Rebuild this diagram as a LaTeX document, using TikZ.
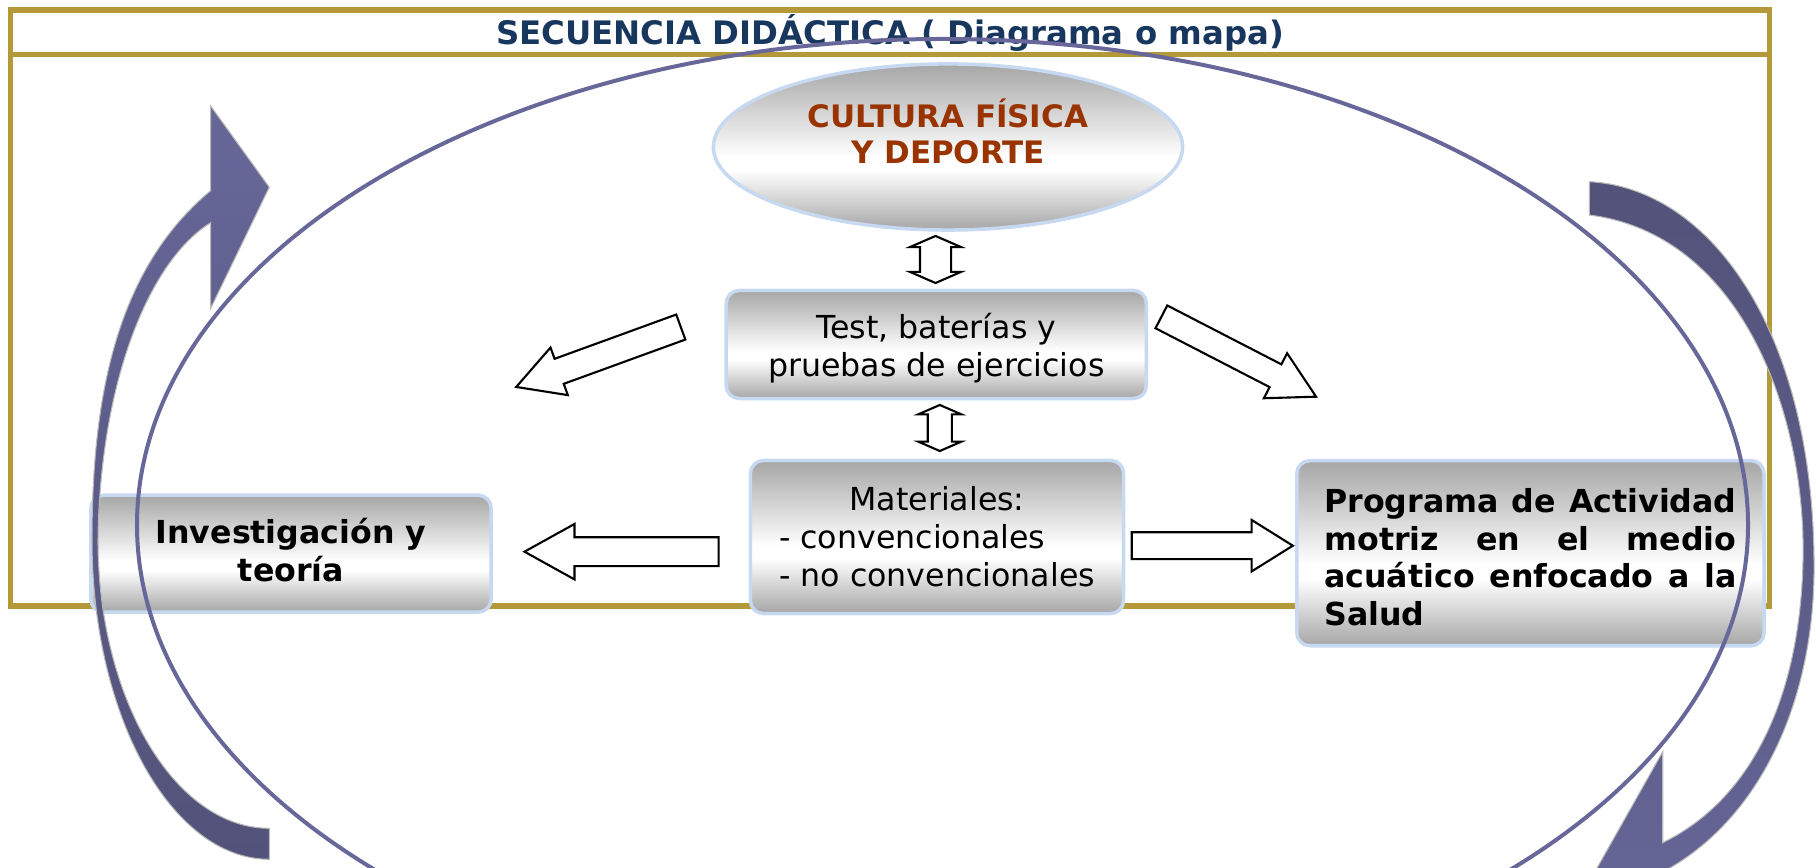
\documentclass[tikz,border=0pt]{standalone}
\usepackage{fontspec}
\setmainfont{DejaVu Sans}
\usetikzlibrary{shapes.arrows,shapes.geometric}

\definecolor{framegold}{RGB}{179,153,58}
\definecolor{titlenavy}{RGB}{23,55,94}
\definecolor{culturered}{RGB}{153,51,0}
\definecolor{edgeblue}{RGB}{198,217,241}
\definecolor{boxgray}{RGB}{166,166,166}
\definecolor{loopblue}{RGB}{103,103,153}
\definecolor{loopdark}{RGB}{82,82,122}

\pgfdeclareverticalshading{boxshade}{100bp}{color(0bp)=(boxgray); color(25bp)=(boxgray); color(43bp)=(white); color(47bp)=(white); color(75bp)=(boxgray); color(100bp)=(boxgray)}

\tikzset{
  goldframe/.style={draw=framegold, line width=0.055cm},
  titletext/.style={font=\fontsize{9.2pt}{11pt}\selectfont\bfseries, text=titlenavy},
  stepbox/.style={rectangle, rounded corners=0.13cm, draw=edgeblue, line width=0.035cm, shade, shading=boxshade, align=center, font=\fontsize{9pt}{10.8pt}\selectfont},
  boldbox/.style={stepbox, font=\fontsize{9pt}{10.8pt}\selectfont\bfseries},
  culturetext/.style={align=center, font=\fontsize{8.8pt}{10.3pt}\selectfont\bfseries, text=culturered},
  hollow/.style={single arrow, draw=black, fill=white, line width=0.6pt, inner xsep=0pt, single arrow head indent=0pt, anchor=tip},
  twoway/.style={double arrow, draw=black, fill=white, line width=0.6pt, inner xsep=0pt, rotate=90},
  loopline/.style={draw=loopblue, line width=0.04cm},
  bandfill/.style={draw=gray!55, line width=0.3pt}
}

\begin{document}
\begin{tikzpicture}[x=0.01cm, y=-0.01cm]
        \useasboundingbox (0, 0) rectangle (1816, 868);
        \clip (0, 0) rectangle (1816, 868);

        % frame and title
        \draw[goldframe] (10.5, 10) rectangle (1769.5, 606);
        \draw[goldframe] (10.5, 54.5) -- (1769.5, 54.5);
        \node[titletext] at (890, 33) (title) {SECUENCIA DIDÁCTICA ( Diagrama o mapa)};

        % boxes
        \node[ellipse, draw=edgeblue, line width=0.035cm, shade, shading=boxshade, minimum width=4.69cm, minimum height=1.66cm] at (948, 147) (cultura) {};
        \node[culturetext] at (948, 131) (cultxt) {CULTURA FÍSICA\\Y DEPORTE};
        \node[stepbox, minimum width=4.2cm, minimum height=1.08cm, text depth=0pt] at (936.3, 344.5) (test) {Test, baterías y\\pruebas de ejercicios};
        \node[stepbox, minimum width=3.73cm, minimum height=1.53cm, text depth=11.67pt] at (937, 537) (mat) {\begin{tabular}{@{}l@{}}\multicolumn{1}{@{}c@{}}{Materiales:}\\- convencionales\\- no convencionales\end{tabular}};
        \node[boldbox, minimum width=4.0cm, minimum height=1.17cm, text depth=2.28pt] at (291, 553.7) (inv) {Investigación y\\teoría};
        \node[boldbox, minimum width=4.67cm, minimum height=1.85cm, text width=4.12cm, align=justify, text height=9.12pt] at (1530.4, 553.2) (prog) {Programa de Actividad\linebreak motriz en el medio\linebreak acuático enfocado a la\linebreak Salud};

        % hollow arrows
        \node[twoway, minimum height=0.47cm, inner ysep=0.145cm, double arrow head extend=0.1cm, double arrow tip angle=133] at (935.5, 259.5) (cultest) {};
        \node[twoway, minimum height=0.46cm, inner ysep=0.11cm, double arrow head extend=0.095cm, double arrow tip angle=133] at (939.8, 428) (testmat) {};
        \node[hollow, minimum height=1.75cm, inner ysep=0.1225cm, single arrow head extend=0.12cm, single arrow tip angle=58, rotate=200] at (514.2, 387.7) (testinv) {};
        \node[hollow, minimum height=1.74cm, inner ysep=0.1175cm, single arrow head extend=0.125cm, single arrow tip angle=58, rotate=-27.3] at (1318, 397.7) (testprog) {};
        \node[hollow, minimum height=1.94cm, inner ysep=0.1335cm, single arrow head extend=0.133cm, single arrow tip angle=58, rotate=180] at (522.3, 551.7) (matinv) {};
        \node[hollow, minimum height=1.61cm, inner ysep=0.1235cm, single arrow head extend=0.1235cm, single arrow tip angle=64] at (1294.8, 545.7) (matprog) {};

        % big loop
        \draw[loopline] (942.5, 525) ellipse [x radius=805.5, y radius=486];

        % curved arrows
        \shade[bandfill, top color=loopblue, bottom color=loopdark]
          (210.7, 106) -- (269.3, 187.3) -- (210.7, 308.3) -- (210.7, 222.7)
          .. controls (150, 260) and (100, 380) .. (98, 540)
          .. controls (98, 699) and (175, 828.3) .. (269.3, 828.3)
          -- (269.3, 859.3)
          .. controls (171.4, 859.3) and (92, 716) .. (92, 540)
          .. controls (92, 400) and (115, 270) .. (210.7, 190.7)
          -- cycle;
        \shade[bandfill, top color=loopdark, bottom color=loopblue]
          (1662.7, 751.7) -- (1662.7, 842.7)
          .. controls (1750, 800) and (1800, 700) .. (1803, 560)
          .. controls (1806, 420) and (1745, 235) .. (1589.3, 215)
          -- (1589.3, 181.7)
          .. controls (1710, 188) and (1812, 330) .. (1814, 560)
          .. controls (1816, 700) and (1760, 820) .. (1662.7, 872)
          -- (1662.7, 960) -- (1588, 884) -- cycle;

        \end{tikzpicture}
\end{document}
